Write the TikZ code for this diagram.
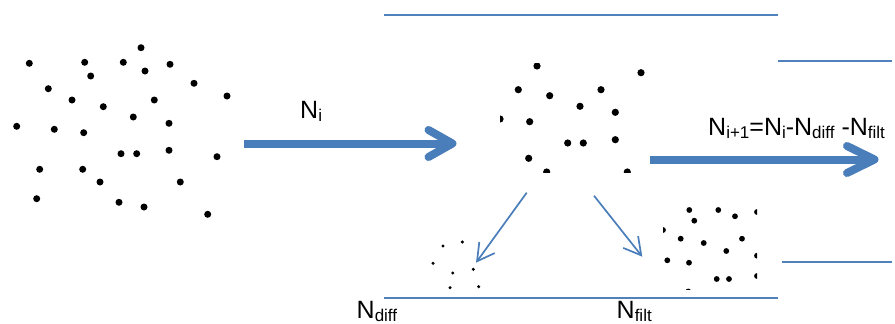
\documentclass[tikz,border=0pt]{standalone}
\usepackage{fontspec}
\setmainfont{Liberation Sans}
\usetikzlibrary{arrows.meta}
\definecolor{lineblue}{HTML}{4F81BD}
\definecolor{arrowblue}{HTML}{4A7EBB}
\newcommand{\Ssub}[1]{\raisebox{-3pt}{\fontsize{17}{17}\selectfont #1}}
\tikzset{
  lbl/.style={inner sep=0pt, anchor=base west, font=\fontsize{25}{26}\selectfont},
  wall/.style={draw=lineblue, line width=2pt},
  bigarrow/.style={draw=arrowblue, line width=8pt},
  chevron/.style={draw=arrowblue, line width=8pt, line cap=round, line join=round},
  thinarrow/.style={draw=arrowblue, line width=1.7pt, -{Straight Barb[length=17pt,width=19pt,line width=1.7pt]}},
}
\begin{document}
\begin{tikzpicture}[x=1pt,y=-1pt]
\useasboundingbox (0,0) rectangle (895,324);
% walls
\coordinate (t1) at (384,15.3); \coordinate (t2) at (777.7,15.3);
\coordinate (u1) at (778,61.3); \coordinate (u2) at (891.7,61.3);
\coordinate (l1) at (781.7,261.7); \coordinate (l2) at (891.7,261.7);
\coordinate (b1) at (384,297.7); \coordinate (b2) at (777.7,297.7);
\draw[wall] (t1) -- (t2);
\draw[wall] (u1) -- (u2);
\draw[wall] (l1) -- (l2);
\draw[wall] (b1) -- (b2);
% left cloud
\foreach \x/\y in {141/47.7,29.3/63.3,84.7/62.3,123.3/62.3,170/64.3,145/71,90.7/76,48.3/88.7,194/83.3,227/96,72/100,154.3/100,103.3/106.7,133.3/117,169/123.3,16.7/126.3,54.3/129.3,83.7/132.7,121/153.7,136.7/153.7,169/150.3,217/156.7,39.7/169.3,82.7/169.3,100/182,180.3/182,36.7/198.7,119/202.3,144/207,207.7/214.3}
  \fill (\x,\y) circle (3.5);
% middle cloud (cropped)
\begin{scope}
\clip (500,63) rectangle (645,172);
\foreach \x/\y in {537/66,592/59.5,641/72.7,518.3/89.7,549.7/95.7,601/89.7,580/106.3,615.3/112.3,500/119,529.7/121.7,567.7/143,583.3/143,615.3/139.7,528.7/158.3,546.7/172,627.3/172}
  \fill (\x,\y) circle (3.6);
\end{scope}
% right cloud (cropped)
\begin{scope}
\clip (663,205) rectangle (757,289);
\foreach \x/\y in {689.3/210,718.3/210,735/216.3,757/212,694.3/220.7,663/230,680.7/238.7,703.7/243,742/238.7,726.3/251,757/255.7,667.3/260.3,689/262.7,716.7/279,729/279,757/276,688.3/291.5}
  \fill (\x,\y) circle (2.9);
\end{scope}
% small cloud
\foreach \x/\y in {443/246,462.3/242,433/263.3,452.7/273,473.3/269.3,450/287.7,478.7/286.7}
  \fill (\x,\y) circle (1.7);
% big arrows
\coordinate (a1s) at (244,143.5); \coordinate (a1e) at (452.5,143.5);
\coordinate (a2s) at (650,159.5); \coordinate (a2e) at (874.5,159.5);
\draw[bigarrow] (a1s) -- (a1e);
\draw[chevron] ([shift={(-24,-13.5)}]a1e) -- (a1e) -- ([shift={(-24,13.5)}]a1e);
\draw[bigarrow] (a2s) -- (a2e);
\draw[chevron] ([shift={(-27.5,-13.5)}]a2e) -- (a2e) -- ([shift={(-27.5,13.5)}]a2e);
% thin arrows
\coordinate (d1s) at (526.7,192.7); \coordinate (d1e) at (476,262.7);
\coordinate (d2s) at (594,195.7); \coordinate (d2e) at (642.3,256.7);
\draw[thinarrow] (d1s) -- (d1e);
\draw[thinarrow] (d2s) -- (d2e);
% labels
\node[lbl] (ni) at (300,118) {N\Ssub{i}};
\node[lbl] (eq) at (708,135) {N\Ssub{i+1}=N\Ssub{i}-N\Ssub{diff} -N\Ssub{filt}};
\node[lbl] (nd) at (356.5,318) {N\Ssub{diff}};
\node[lbl] (nf) at (616.5,318) {N\Ssub{filt}};
\end{tikzpicture}
\end{document}
